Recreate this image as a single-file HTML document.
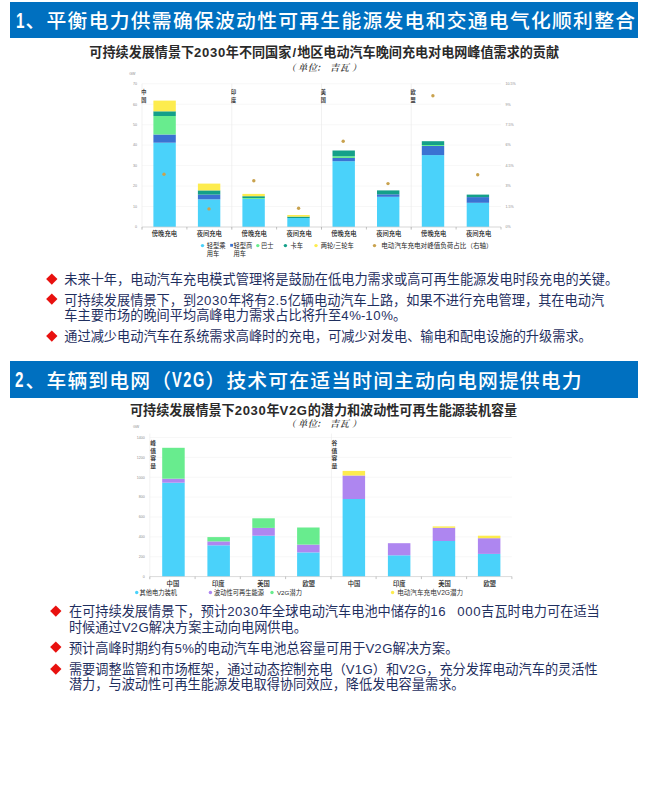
<!DOCTYPE html>
<html lang="zh-CN">
<head>
<meta charset="utf-8">
<title>电动汽车与电网整合</title>
<style>
html,body{margin:0;padding:0;background:#fff;}
body{width:646px;height:800px;position:relative;overflow:hidden;
  font-family:"Liberation Sans","Noto Sans CJK SC",sans-serif;}
.hdr{position:absolute;left:10px;width:627.8px;height:35.8px;background:#0070c0;color:#fff;
  font-size:19.8px;font-weight:500;line-height:35.8px;white-space:nowrap;letter-spacing:1.28px;box-sizing:border-box;padding-left:4px;}
.hdr span{position:relative;top:2px;}
#h1{top:1.9px;}
#h2{top:361.3px;height:36.4px;line-height:36.4px;letter-spacing:1.18px;}
.hdr .lt{display:inline-block;position:relative;top:-1.5px;font-weight:bold;font-size:19px;letter-spacing:2px;transform:scale(.8,1.2);transform-origin:0 68%;}
.ct{position:absolute;left:1.2px;width:646px;text-align:center;font-weight:bold;color:#2a2a2a;
  font-size:13.1px;line-height:16px;white-space:nowrap;}
.ct .n{letter-spacing:0.65px;}
.ct .s{margin:0 1.1px;}
.cs{position:absolute;left:286.6px;color:#3a3a3a;font-weight:600;
  font-family:"Liberation Serif","Noto Serif CJK SC",serif;font-size:9.2px;line-height:12px;white-space:nowrap;font-style:italic;letter-spacing:0.5px;}
.cs .l{margin-right:1.8px;}
.cs .c{margin-left:-1.3px;margin-right:4.2px;}
.cs .r{margin-left:2.6px;}
.bl{position:absolute;color:#1f2f5f;font-size:13.2px;line-height:16px;white-space:nowrap;}
.bl .n{letter-spacing:0.6px;}
.dm{position:absolute;width:7.6px;height:7.6px;margin:-3.8px 0 0 -3.8px;background:#e8110f;transform:rotate(45deg);}
svg{position:absolute;left:0;top:0;}
svg text{font-family:"Liberation Sans","Noto Sans CJK SC",sans-serif;}
</style>
</head>
<body>
<div class="hdr" id="h1"><span><span class="lt" style="top:0.4px;margin-left:1.6px;margin-right:-2.7px">1</span>、平衡电力供需确保波动性可再生能源发电和交通电气化顺利整合</span></div>
<div class="ct" style="top:45px;">可持续发展情景下<span class="n">2030</span>年不同国家<span class="s">/</span>地区电动汽车晚间充电对电网峰值需求的贡献</div>
<div class="cs" style="top:61.8px;"><span class="l">（</span>单位<span class="c">：</span>吉瓦<span class="r">）</span></div>
<svg width="646" height="800" viewBox="0 0 646 800">
<line x1="142.0" y1="227.0" x2="501.0" y2="227.0" stroke="#f1f1f1" stroke-width="0.6"/>
<text x="137.0" y="228.3" font-size="3.6" fill="#8c8c8c" text-anchor="end" font-weight="normal" >0</text>
<line x1="142.0" y1="206.5" x2="501.0" y2="206.5" stroke="#f1f1f1" stroke-width="0.6"/>
<text x="137.0" y="207.8" font-size="3.6" fill="#8c8c8c" text-anchor="end" font-weight="normal" >10</text>
<line x1="142.0" y1="186.1" x2="501.0" y2="186.1" stroke="#f1f1f1" stroke-width="0.6"/>
<text x="137.0" y="187.4" font-size="3.6" fill="#8c8c8c" text-anchor="end" font-weight="normal" >20</text>
<line x1="142.0" y1="165.6" x2="501.0" y2="165.6" stroke="#f1f1f1" stroke-width="0.6"/>
<text x="137.0" y="166.9" font-size="3.6" fill="#8c8c8c" text-anchor="end" font-weight="normal" >30</text>
<line x1="142.0" y1="145.1" x2="501.0" y2="145.1" stroke="#f1f1f1" stroke-width="0.6"/>
<text x="137.0" y="146.4" font-size="3.6" fill="#8c8c8c" text-anchor="end" font-weight="normal" >40</text>
<line x1="142.0" y1="124.7" x2="501.0" y2="124.7" stroke="#f1f1f1" stroke-width="0.6"/>
<text x="137.0" y="126.0" font-size="3.6" fill="#8c8c8c" text-anchor="end" font-weight="normal" >50</text>
<line x1="142.0" y1="104.2" x2="501.0" y2="104.2" stroke="#f1f1f1" stroke-width="0.6"/>
<text x="137.0" y="105.5" font-size="3.6" fill="#8c8c8c" text-anchor="end" font-weight="normal" >60</text>
<line x1="142.0" y1="83.7" x2="501.0" y2="83.7" stroke="#f1f1f1" stroke-width="0.6"/>
<text x="137.0" y="85.0" font-size="3.6" fill="#8c8c8c" text-anchor="end" font-weight="normal" >70</text>
<text x="135.5" y="74.7" font-size="3.6" fill="#8c8c8c" text-anchor="end" font-weight="normal" >GW</text>
<text x="505.4" y="228.3" font-size="3.6" fill="#8c8c8c" text-anchor="start" font-weight="normal" >0%</text>
<text x="505.4" y="207.8" font-size="3.6" fill="#8c8c8c" text-anchor="start" font-weight="normal" >1.5%</text>
<text x="505.4" y="187.4" font-size="3.6" fill="#8c8c8c" text-anchor="start" font-weight="normal" >3%</text>
<text x="505.4" y="166.9" font-size="3.6" fill="#8c8c8c" text-anchor="start" font-weight="normal" >4.5%</text>
<text x="505.4" y="146.4" font-size="3.6" fill="#8c8c8c" text-anchor="start" font-weight="normal" >6%</text>
<text x="505.4" y="126.0" font-size="3.6" fill="#8c8c8c" text-anchor="start" font-weight="normal" >7.5%</text>
<text x="505.4" y="105.5" font-size="3.6" fill="#8c8c8c" text-anchor="start" font-weight="normal" >9%</text>
<text x="505.4" y="85.0" font-size="3.6" fill="#8c8c8c" text-anchor="start" font-weight="normal" >10.5%</text>
<line x1="142.0" y1="83.7" x2="142.0" y2="230.0" stroke="#ebebeb" stroke-width="0.7"/>
<line x1="231.8" y1="83.7" x2="231.8" y2="230.0" stroke="#ebebeb" stroke-width="0.7"/>
<line x1="321.5" y1="83.7" x2="321.5" y2="230.0" stroke="#ebebeb" stroke-width="0.7"/>
<line x1="411.2" y1="83.7" x2="411.2" y2="230.0" stroke="#ebebeb" stroke-width="0.7"/>
<rect x="153.4" y="142.7" width="22.4" height="84.3" fill="#4ad2fa"/>
<rect x="153.4" y="134.5" width="22.4" height="8.2" fill="#3a72d2"/>
<rect x="153.4" y="116.0" width="22.4" height="18.5" fill="#68ec8e"/>
<rect x="153.4" y="111.3" width="22.4" height="4.7" fill="#14a089"/>
<rect x="153.4" y="100.6" width="22.4" height="10.7" fill="#fdec4e"/>
<rect x="197.9" y="199.3" width="22.4" height="27.7" fill="#4ad2fa"/>
<rect x="197.9" y="194.6" width="22.4" height="4.7" fill="#3a72d2"/>
<rect x="197.9" y="190.4" width="22.4" height="4.2" fill="#14a089"/>
<rect x="197.9" y="183.6" width="22.4" height="6.8" fill="#fdec4e"/>
<rect x="242.4" y="198.9" width="22.4" height="28.1" fill="#4ad2fa"/>
<rect x="242.4" y="198.0" width="22.4" height="0.9" fill="#68ec8e"/>
<rect x="242.4" y="196.2" width="22.4" height="1.8" fill="#14a089"/>
<rect x="242.4" y="193.9" width="22.4" height="2.3" fill="#fdec4e"/>
<rect x="287.3" y="218.0" width="22.4" height="9.0" fill="#4ad2fa"/>
<rect x="287.3" y="216.6" width="22.4" height="1.4" fill="#14a089"/>
<rect x="287.3" y="215.0" width="22.4" height="1.6" fill="#fdec4e"/>
<rect x="332.5" y="161.2" width="22.4" height="65.8" fill="#4ad2fa"/>
<rect x="332.5" y="158.0" width="22.4" height="3.2" fill="#3a72d2"/>
<rect x="332.5" y="156.2" width="22.4" height="1.8" fill="#68ec8e"/>
<rect x="332.5" y="150.5" width="22.4" height="5.7" fill="#14a089"/>
<rect x="377.0" y="196.8" width="22.4" height="30.2" fill="#4ad2fa"/>
<rect x="377.0" y="194.3" width="22.4" height="2.5" fill="#3a72d2"/>
<rect x="377.0" y="190.4" width="22.4" height="3.9" fill="#14a089"/>
<rect x="421.8" y="155.1" width="22.4" height="71.9" fill="#4ad2fa"/>
<rect x="421.8" y="146.0" width="22.4" height="9.1" fill="#3a72d2"/>
<rect x="421.8" y="145.0" width="22.4" height="1.0" fill="#68ec8e"/>
<rect x="421.8" y="141.2" width="22.4" height="3.8" fill="#14a089"/>
<rect x="466.7" y="202.8" width="22.4" height="24.2" fill="#4ad2fa"/>
<rect x="466.7" y="197.1" width="22.4" height="5.7" fill="#3a72d2"/>
<rect x="466.7" y="194.6" width="22.4" height="2.5" fill="#14a089"/>
<line x1="142.0" y1="227.0" x2="501.0" y2="227.0" stroke="#cfcfcf" stroke-width="0.7"/>
<line x1="142.0" y1="227.0" x2="142.0" y2="229.5" stroke="#9a9a9a" stroke-width="0.6"/>
<line x1="186.9" y1="227.0" x2="186.9" y2="229.5" stroke="#9a9a9a" stroke-width="0.6"/>
<line x1="231.8" y1="227.0" x2="231.8" y2="229.5" stroke="#9a9a9a" stroke-width="0.6"/>
<line x1="276.6" y1="227.0" x2="276.6" y2="229.5" stroke="#9a9a9a" stroke-width="0.6"/>
<line x1="321.5" y1="227.0" x2="321.5" y2="229.5" stroke="#9a9a9a" stroke-width="0.6"/>
<line x1="366.4" y1="227.0" x2="366.4" y2="229.5" stroke="#9a9a9a" stroke-width="0.6"/>
<line x1="411.2" y1="227.0" x2="411.2" y2="229.5" stroke="#9a9a9a" stroke-width="0.6"/>
<line x1="456.1" y1="227.0" x2="456.1" y2="229.5" stroke="#9a9a9a" stroke-width="0.6"/>
<line x1="501.0" y1="227.0" x2="501.0" y2="229.5" stroke="#9a9a9a" stroke-width="0.6"/>
<circle cx="164.0" cy="174.3" r="1.7" fill="#c9a24e"/>
<circle cx="209.0" cy="208.9" r="1.7" fill="#c9a24e"/>
<circle cx="253.8" cy="180.7" r="1.7" fill="#c9a24e"/>
<circle cx="298.6" cy="208.2" r="1.7" fill="#c9a24e"/>
<circle cx="343.2" cy="141.2" r="1.7" fill="#c9a24e"/>
<circle cx="388.0" cy="183.6" r="1.7" fill="#c9a24e"/>
<circle cx="432.9" cy="95.7" r="1.7" fill="#c9a24e"/>
<circle cx="477.7" cy="174.7" r="1.7" fill="#c9a24e"/>
<text x="141.2" y="94.3" font-size="5.2" fill="#3a3a3a" text-anchor="start" font-weight="bold" >中</text>
<text x="141.2" y="102.0" font-size="5.2" fill="#3a3a3a" text-anchor="start" font-weight="bold" >国</text>
<text x="230.9" y="94.3" font-size="5.2" fill="#3a3a3a" text-anchor="start" font-weight="bold" >印</text>
<text x="230.9" y="102.0" font-size="5.2" fill="#3a3a3a" text-anchor="start" font-weight="bold" >度</text>
<text x="320.7" y="94.3" font-size="5.2" fill="#3a3a3a" text-anchor="start" font-weight="bold" >美</text>
<text x="320.7" y="102.0" font-size="5.2" fill="#3a3a3a" text-anchor="start" font-weight="bold" >国</text>
<text x="410.4" y="94.3" font-size="5.2" fill="#3a3a3a" text-anchor="start" font-weight="bold" >欧</text>
<text x="410.4" y="102.0" font-size="5.2" fill="#3a3a3a" text-anchor="start" font-weight="bold" >盟</text>
<text x="164.4" y="235.6" font-size="6.3" fill="#222" text-anchor="middle" font-weight="500" >傍晚充电</text>
<text x="209.3" y="235.6" font-size="6.3" fill="#222" text-anchor="middle" font-weight="500" >夜间充电</text>
<text x="254.2" y="235.6" font-size="6.3" fill="#222" text-anchor="middle" font-weight="500" >傍晚充电</text>
<text x="299.1" y="235.6" font-size="6.3" fill="#222" text-anchor="middle" font-weight="500" >夜间充电</text>
<text x="343.9" y="235.6" font-size="6.3" fill="#222" text-anchor="middle" font-weight="500" >傍晚充电</text>
<text x="388.8" y="235.6" font-size="6.3" fill="#222" text-anchor="middle" font-weight="500" >夜间充电</text>
<text x="433.7" y="235.6" font-size="6.3" fill="#222" text-anchor="middle" font-weight="500" >傍晚充电</text>
<text x="478.6" y="235.6" font-size="6.3" fill="#222" text-anchor="middle" font-weight="500" >夜间充电</text>
<circle cx="202.5" cy="245.6" r="1.7" fill="#4ad2fa"/>
<text x="206.8" y="247.6" font-size="6.25" fill="#262626" text-anchor="start" font-weight="normal" >轻型乘</text>
<text x="206.8" y="255.7" font-size="6.25" fill="#262626" text-anchor="start" font-weight="normal" >用车</text>
<rect x="230.2" y="243.9" width="2.8" height="2.8" fill="#3a72d2"/>
<text x="233.5" y="247.6" font-size="6.25" fill="#262626" text-anchor="start" font-weight="normal" >轻型商</text>
<text x="233.5" y="255.7" font-size="6.25" fill="#262626" text-anchor="start" font-weight="normal" >用车</text>
<circle cx="257.8" cy="245.6" r="1.7" fill="#68ec8e"/>
<text x="260.9" y="247.6" font-size="6.25" fill="#262626" text-anchor="start" font-weight="normal" >巴士</text>
<circle cx="285.4" cy="245.6" r="1.7" fill="#14a089"/>
<text x="290.5" y="247.6" font-size="6.25" fill="#262626" text-anchor="start" font-weight="normal" >卡车</text>
<circle cx="316.0" cy="245.6" r="1.7" fill="#fdec4e"/>
<text x="320.7" y="247.6" font-size="6.25" fill="#262626" text-anchor="start" font-weight="normal" >两轮/三轮车</text>
<circle cx="374.5" cy="245.6" r="1.7" fill="#c9a24e"/>
<text x="381.3" y="247.6" font-size="6.55" fill="#262626" text-anchor="start" font-weight="normal" >电动汽车充电对峰值负荷占比（右轴）</text>
<line x1="149.8" y1="576.6" x2="511.9" y2="576.6" stroke="#f1f1f1" stroke-width="0.6"/>
<text x="144.8" y="577.9" font-size="3.6" fill="#8c8c8c" text-anchor="end" font-weight="normal" >0</text>
<line x1="149.8" y1="556.7" x2="511.9" y2="556.7" stroke="#f1f1f1" stroke-width="0.6"/>
<text x="144.8" y="558.0" font-size="3.6" fill="#8c8c8c" text-anchor="end" font-weight="normal" >200</text>
<line x1="149.8" y1="536.9" x2="511.9" y2="536.9" stroke="#f1f1f1" stroke-width="0.6"/>
<text x="144.8" y="538.2" font-size="3.6" fill="#8c8c8c" text-anchor="end" font-weight="normal" >400</text>
<line x1="149.8" y1="517.0" x2="511.9" y2="517.0" stroke="#f1f1f1" stroke-width="0.6"/>
<text x="144.8" y="518.3" font-size="3.6" fill="#8c8c8c" text-anchor="end" font-weight="normal" >600</text>
<line x1="149.8" y1="497.1" x2="511.9" y2="497.1" stroke="#f1f1f1" stroke-width="0.6"/>
<text x="144.8" y="498.4" font-size="3.6" fill="#8c8c8c" text-anchor="end" font-weight="normal" >800</text>
<line x1="149.8" y1="477.2" x2="511.9" y2="477.2" stroke="#f1f1f1" stroke-width="0.6"/>
<text x="144.8" y="478.6" font-size="3.6" fill="#8c8c8c" text-anchor="end" font-weight="normal" >1000</text>
<line x1="149.8" y1="457.4" x2="511.9" y2="457.4" stroke="#f1f1f1" stroke-width="0.6"/>
<text x="144.8" y="458.7" font-size="3.6" fill="#8c8c8c" text-anchor="end" font-weight="normal" >1200</text>
<line x1="149.8" y1="437.5" x2="511.9" y2="437.5" stroke="#f1f1f1" stroke-width="0.6"/>
<text x="144.8" y="438.8" font-size="3.6" fill="#8c8c8c" text-anchor="end" font-weight="normal" >1400</text>
<text x="139.2" y="428.1" font-size="3.6" fill="#8c8c8c" text-anchor="end" font-weight="normal" >GW</text>
<line x1="149.8" y1="433.5" x2="149.8" y2="579.6" stroke="#ececec" stroke-width="0.7"/>
<line x1="331.4" y1="433.5" x2="331.4" y2="579.6" stroke="#ececec" stroke-width="0.7"/>
<rect x="162.2" y="482.7" width="22.5" height="93.9" fill="#4ad2fa"/>
<rect x="162.2" y="478.7" width="22.5" height="4.0" fill="#ae86f0"/>
<rect x="162.2" y="447.8" width="22.5" height="30.9" fill="#68ec8e"/>
<rect x="207.4" y="545.3" width="22.5" height="31.3" fill="#4ad2fa"/>
<rect x="207.4" y="541.4" width="22.5" height="3.9" fill="#ae86f0"/>
<rect x="207.4" y="537.1" width="22.5" height="4.3" fill="#68ec8e"/>
<rect x="252.3" y="535.7" width="22.5" height="40.9" fill="#4ad2fa"/>
<rect x="252.3" y="527.9" width="22.5" height="7.8" fill="#ae86f0"/>
<rect x="252.3" y="518.3" width="22.5" height="9.6" fill="#68ec8e"/>
<rect x="297.1" y="552.4" width="22.5" height="24.2" fill="#4ad2fa"/>
<rect x="297.1" y="544.6" width="22.5" height="7.8" fill="#ae86f0"/>
<rect x="297.1" y="527.5" width="22.5" height="17.1" fill="#68ec8e"/>
<rect x="342.6" y="499.0" width="22.5" height="77.6" fill="#4ad2fa"/>
<rect x="342.6" y="475.5" width="22.5" height="23.5" fill="#ae86f0"/>
<rect x="342.6" y="470.9" width="22.5" height="4.6" fill="#fdec4e"/>
<rect x="387.9" y="555.3" width="22.5" height="21.3" fill="#4ad2fa"/>
<rect x="387.9" y="543.2" width="22.5" height="12.1" fill="#ae86f0"/>
<rect x="432.7" y="541.0" width="22.5" height="35.6" fill="#4ad2fa"/>
<rect x="432.7" y="527.8" width="22.5" height="13.2" fill="#ae86f0"/>
<rect x="432.7" y="526.4" width="22.5" height="1.4" fill="#fdec4e"/>
<rect x="477.9" y="553.9" width="22.5" height="22.7" fill="#4ad2fa"/>
<rect x="477.9" y="538.2" width="22.5" height="15.7" fill="#ae86f0"/>
<rect x="477.9" y="535.7" width="22.5" height="2.5" fill="#fdec4e"/>
<line x1="149.8" y1="576.6" x2="511.9" y2="576.6" stroke="#cfcfcf" stroke-width="0.7"/>
<line x1="149.8" y1="576.6" x2="149.8" y2="579.1" stroke="#9a9a9a" stroke-width="0.6"/>
<line x1="195.1" y1="576.6" x2="195.1" y2="579.1" stroke="#9a9a9a" stroke-width="0.6"/>
<line x1="240.3" y1="576.6" x2="240.3" y2="579.1" stroke="#9a9a9a" stroke-width="0.6"/>
<line x1="285.6" y1="576.6" x2="285.6" y2="579.1" stroke="#9a9a9a" stroke-width="0.6"/>
<line x1="330.9" y1="576.6" x2="330.9" y2="579.1" stroke="#9a9a9a" stroke-width="0.6"/>
<line x1="376.1" y1="576.6" x2="376.1" y2="579.1" stroke="#9a9a9a" stroke-width="0.6"/>
<line x1="421.4" y1="576.6" x2="421.4" y2="579.1" stroke="#9a9a9a" stroke-width="0.6"/>
<line x1="466.6" y1="576.6" x2="466.6" y2="579.1" stroke="#9a9a9a" stroke-width="0.6"/>
<line x1="511.9" y1="576.6" x2="511.9" y2="579.1" stroke="#9a9a9a" stroke-width="0.6"/>
<text x="172.9" y="586.3" font-size="6.3" fill="#222" text-anchor="middle" font-weight="500" >中国</text>
<text x="218.2" y="586.3" font-size="6.3" fill="#222" text-anchor="middle" font-weight="500" >印度</text>
<text x="263.5" y="586.3" font-size="6.3" fill="#222" text-anchor="middle" font-weight="500" >美国</text>
<text x="308.7" y="586.3" font-size="6.3" fill="#222" text-anchor="middle" font-weight="500" >欧盟</text>
<text x="354.0" y="586.3" font-size="6.3" fill="#222" text-anchor="middle" font-weight="500" >中国</text>
<text x="399.2" y="586.3" font-size="6.3" fill="#222" text-anchor="middle" font-weight="500" >印度</text>
<text x="444.5" y="586.3" font-size="6.3" fill="#222" text-anchor="middle" font-weight="500" >美国</text>
<text x="489.8" y="586.3" font-size="6.3" fill="#222" text-anchor="middle" font-weight="500" >欧盟</text>
<text x="150.2" y="445.1" font-size="5.8" fill="#3a3a3a" text-anchor="start" font-weight="bold" >峰</text>
<text x="150.2" y="452.6" font-size="5.8" fill="#3a3a3a" text-anchor="start" font-weight="bold" >值</text>
<text x="150.2" y="460.1" font-size="5.8" fill="#3a3a3a" text-anchor="start" font-weight="bold" >容</text>
<text x="150.2" y="467.6" font-size="5.8" fill="#3a3a3a" text-anchor="start" font-weight="bold" >量</text>
<text x="331.4" y="445.1" font-size="5.8" fill="#3a3a3a" text-anchor="start" font-weight="bold" >谷</text>
<text x="331.4" y="452.6" font-size="5.8" fill="#3a3a3a" text-anchor="start" font-weight="bold" >值</text>
<text x="331.4" y="460.1" font-size="5.8" fill="#3a3a3a" text-anchor="start" font-weight="bold" >容</text>
<text x="331.4" y="467.6" font-size="5.8" fill="#3a3a3a" text-anchor="start" font-weight="bold" >量</text>
<circle cx="136.7" cy="592.5" r="1.7" fill="#4ad2fa"/>
<text x="139.6" y="594.5" font-size="6.25" fill="#262626" text-anchor="start" font-weight="normal" >其他电力装机</text>
<circle cx="210.4" cy="592.5" r="1.7" fill="#ae86f0"/>
<text x="213.9" y="594.5" font-size="6.25" fill="#262626" text-anchor="start" font-weight="normal" >波动性可再生能源</text>
<circle cx="272.0" cy="592.5" r="1.7" fill="#68ec8e"/>
<text x="276.9" y="594.5" font-size="6.25" fill="#262626" text-anchor="start" font-weight="normal" >V2G潜力</text>
<circle cx="392.6" cy="592.5" r="1.7" fill="#fdec4e"/>
<text x="397.2" y="594.5" font-size="6.6" fill="#333" text-anchor="start" font-weight="normal" >电动汽车充电V2G潜力</text>
</svg>
<div class="dm" style="left:51.8px;top:278.5px;"></div>
<div class="bl" style="left:64.3px;top:271.7px;">未来十年，电动汽车充电模式管理将是鼓励在低电力需求或高可再生能源发电时段充电的关键。</div>
<div class="dm" style="left:51.8px;top:298.8px;"></div>
<div class="bl" style="left:64.3px;top:293.1px;">可持续发展情景下，到<span class="n">2030</span>年将有<span class="n">2.5</span>亿辆电动汽车上路，如果不进行充电管理，其在电动汽</div>
<div class="bl" style="left:64.3px;top:308.2px;">车主要市场的晚间平均高峰电力需求占比将升至<span class="n">4</span>%-<span class="n">10</span>%。</div>
<div class="dm" style="left:51.8px;top:335.7px;"></div>
<div class="bl" style="left:64.3px;top:328.8px;">通过减少电动汽车在系统需求高峰时的充电，可减少对发电、输电和配电设施的升级需求。</div>
<div class="hdr" id="h2"><span><span class="lt" style="margin-left:1.2px;margin-right:-2.3px">2</span>、车辆到电网（<span class="lt" style="transform:scale(.77,1.2);margin-right:-10.8px">V2G</span>）技术可在适当时间主动向电网提供电力</span></div>
<div class="ct" style="top:402.8px;left:0.6px;">可持续发展情景下<span class="n">2030</span>年<span class="n">V2G</span>的潜力和波动性可再生能源装机容量</div>
<div class="cs" style="top:417.7px;"><span class="l">（</span>单位<span class="c">：</span>吉瓦<span class="r">）</span></div>
<div class="dm" style="left:55.9px;top:610.9px;"></div>
<div class="bl" style="left:68.9px;top:603.8px;word-spacing:7.4px;">在可持续发展情景下，预计<span class="n">2030</span>年全球电动汽车电池中储存的<span class="n">16</span> <span class="n">000</span>吉瓦时电力可在适当</div>
<div class="bl" style="left:68.9px;top:619.5px;">时候通过V<span class="n">2</span>G解决方案主动向电网供电。</div>
<div class="dm" style="left:55.9px;top:647.1px;"></div>
<div class="bl" style="left:68.9px;top:640.7px;">预计高峰时期约有<span class="n">5</span>%的电动汽车电池总容量可用于V<span class="n">2</span>G解决方案。</div>
<div class="dm" style="left:55.9px;top:668.3px;"></div>
<div class="bl" style="left:68.9px;top:661.6px;">需要调整监管和市场框架，通过动态控制充电（V<span class="n">1</span>G）和V<span class="n">2</span>G，充分发挥电动汽车的灵活性</div>
<div class="bl" style="left:68.9px;top:677.0px;">潜力，与波动性可再生能源发电取得协同效应，降低发电容量需求。</div>
</body>
</html>
